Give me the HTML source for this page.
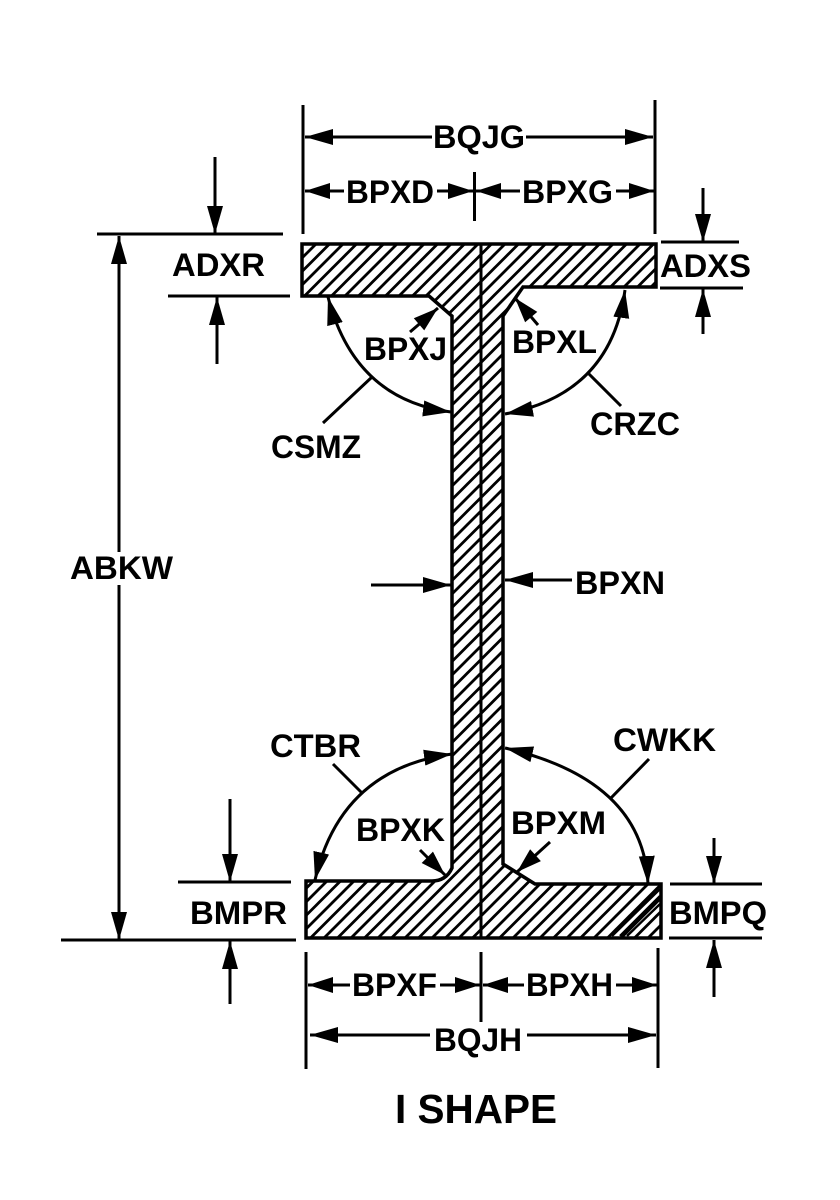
<!DOCTYPE html>
<html><head><meta charset="utf-8"><style>
html,body{margin:0;padding:0;background:#fff}
svg{display:block}
text{font-family:"Liberation Sans",sans-serif;font-weight:bold;font-size:32.5px;fill:#000}
</style></head><body>
<svg width="840" height="1200" viewBox="0 0 840 1200" xmlns="http://www.w3.org/2000/svg">
<defs>
<pattern id="h" patternUnits="userSpaceOnUse" width="13.5" height="13.5" patternTransform="translate(6.5 0)">
<path d="M-3,3L3,-3M-3,16.5L16.5,-3M10.5,16.5L16.5,10.5" stroke="#000" stroke-width="2.8"/>
</pattern>
<marker id="a" markerUnits="userSpaceOnUse" markerWidth="30" markerHeight="20" viewBox="0 0 30 20" refX="28" refY="10" orient="auto-start-reverse">
<path d="M28,10L0,2V18Z" fill="#000"/>
</marker>
<marker id="b" markerUnits="userSpaceOnUse" markerWidth="30" markerHeight="20" viewBox="0 0 30 20" refX="28" refY="10" orient="auto-start-reverse">
<path d="M28,10L3,2V18Z" fill="#000"/>
</marker>
</defs>
<rect width="840" height="1200" fill="#fff"/>

<path d="M302,244H656V287H523L503,316V864L535,884H661V938H306V881H432Q446,881 452,868V316L429,296H302Z" fill="url(#h)" stroke="#000" stroke-width="3.5"/>
<path d="M481,244V938" stroke="#000" stroke-width="3"/>
<path d="M612,936L660,889M620,936L660,896M627,936L660,904" stroke="#000" stroke-width="2.4"/>

<g stroke="#000" stroke-width="3" fill="none">
<path d="M303,105V234M655,100V234M474.5,172V221M306,952V1069M658,948V1068M481,952V1022"/>
<path d="M97,234H283M168,296H290M61,940H296M178,882H291"/>
<path d="M661,242H739M660,288H743M670,884H762M669,938H762"/>

<path d="M305,137H432" marker-start="url(#a)"/>
<path d="M526,137H653" marker-end="url(#a)"/>
<path d="M305,191H344" marker-start="url(#b)"/>
<path d="M437,191H473" marker-end="url(#b)"/>
<path d="M476,191H520" marker-start="url(#b)"/>
<path d="M616,191H654" marker-end="url(#b)"/>

<path d="M308,985H350" marker-start="url(#b)"/>
<path d="M440,985H480" marker-end="url(#b)"/>
<path d="M483,985H524" marker-start="url(#b)"/>
<path d="M616,985H657" marker-end="url(#b)"/>
<path d="M310,1035H430" marker-start="url(#a)"/>
<path d="M527,1035H656" marker-end="url(#a)"/>

<path d="M215,157V234" marker-end="url(#a)"/>
<path d="M217,364V297" marker-end="url(#a)"/>
<path d="M703,188V242" marker-end="url(#a)"/>
<path d="M703,334V289" marker-end="url(#a)"/>
<path d="M230,799V882" marker-end="url(#a)"/>
<path d="M230,1004V941" marker-end="url(#a)"/>
<path d="M714,838V884" marker-end="url(#a)"/>
<path d="M714,997V940" marker-end="url(#a)"/>

<path d="M119,236V552" marker-start="url(#a)"/>
<path d="M119,585V940" marker-end="url(#a)"/>

<path d="M371,585H451" marker-end="url(#a)"/>
<path d="M572,580H505" marker-end="url(#a)"/>

<path d="M328,297Q354.5,399.5 451,412" marker-start="url(#a)" marker-end="url(#a)"/>
<path d="M505,414Q611,394 625,290" marker-start="url(#a)" marker-end="url(#a)"/>
<path d="M452,754Q340.5,769 315,880" marker-start="url(#a)" marker-end="url(#a)"/>
<path d="M505,748Q643.5,780 648,884" marker-start="url(#a)" marker-end="url(#a)"/>

<path d="M372,377L323,423M588,373L621,406M362,793L333,764M610,799L649,759"/>
<path d="M410,332L438,308" marker-end="url(#b)"/>
<path d="M538,325L515,298" marker-end="url(#b)"/>
<path d="M420,850L445,875" marker-end="url(#b)"/>
<path d="M550,842L517,872" marker-end="url(#b)"/>
</g>

<text x="433" y="148" textLength="92" lengthAdjust="spacingAndGlyphs">BQJG</text>
<text x="346" y="203" textLength="88" lengthAdjust="spacingAndGlyphs">BPXD</text>
<text x="522" y="203" textLength="91" lengthAdjust="spacingAndGlyphs">BPXG</text>
<text x="172" y="276" textLength="93" lengthAdjust="spacingAndGlyphs">ADXR</text>
<text x="660" y="277" textLength="91" lengthAdjust="spacingAndGlyphs">ADXS</text>
<text x="364" y="360" textLength="83" lengthAdjust="spacingAndGlyphs">BPXJ</text>
<text x="512" y="353" textLength="85" lengthAdjust="spacingAndGlyphs">BPXL</text>
<text x="271" y="458" textLength="90" lengthAdjust="spacingAndGlyphs">CSMZ</text>
<text x="590" y="435" textLength="90" lengthAdjust="spacingAndGlyphs">CRZC</text>
<text x="70" y="579" textLength="103" lengthAdjust="spacingAndGlyphs">ABKW</text>
<text x="575" y="594" textLength="90" lengthAdjust="spacingAndGlyphs">BPXN</text>
<text x="270" y="757" textLength="91" lengthAdjust="spacingAndGlyphs">CTBR</text>
<text x="613" y="751" textLength="103" lengthAdjust="spacingAndGlyphs">CWKK</text>
<text x="356" y="841" textLength="89" lengthAdjust="spacingAndGlyphs">BPXK</text>
<text x="511" y="834" textLength="95" lengthAdjust="spacingAndGlyphs">BPXM</text>
<text x="190" y="924" textLength="97" lengthAdjust="spacingAndGlyphs">BMPR</text>
<text x="669" y="924" textLength="98" lengthAdjust="spacingAndGlyphs">BMPQ</text>
<text x="352" y="996" textLength="85" lengthAdjust="spacingAndGlyphs">BPXF</text>
<text x="526" y="996" textLength="87" lengthAdjust="spacingAndGlyphs">BPXH</text>
<text x="434" y="1051" textLength="88" lengthAdjust="spacingAndGlyphs">BQJH</text>
<text x="395" y="1123" textLength="162" lengthAdjust="spacingAndGlyphs" style="font-size:40.5px">I SHAPE</text>
</svg>
</body></html>
